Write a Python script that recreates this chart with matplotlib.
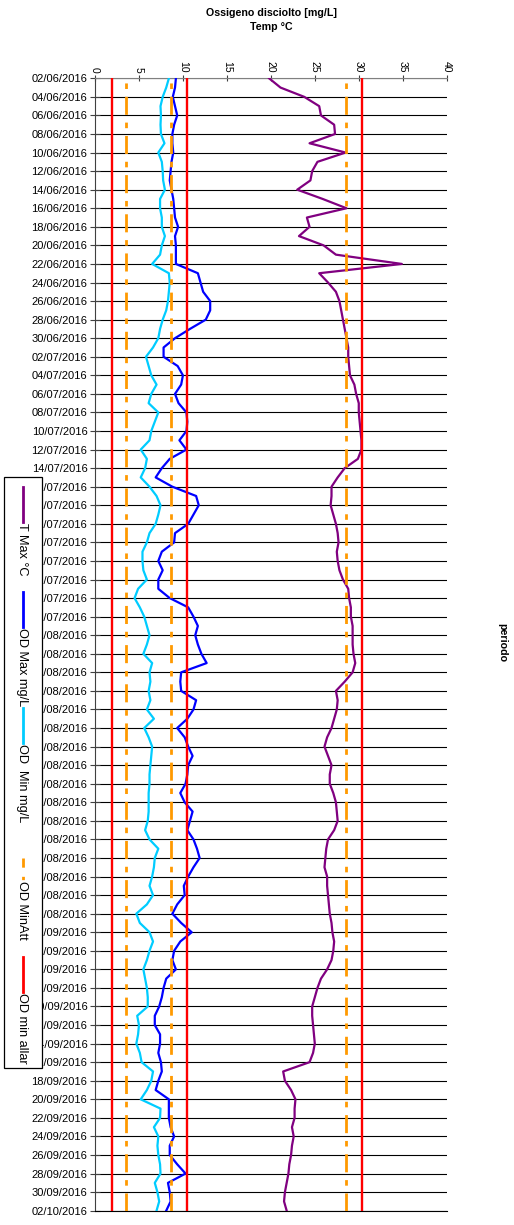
import numpy as np
import pandas as pd
import matplotlib
matplotlib.use('Agg')
import matplotlib.pyplot as plt
from matplotlib.lines import Line2D
from matplotlib.patches import Rectangle

plt.rcParams['font.family'] = ['Liberation Sans', 'DejaVu Sans']

# daily readings 02/06/2016 .. 02/10/2016
days = pd.date_range('2016-06-02', '2016-10-02', freq='D')
tick_dates = days[::2]

t_max = [19.8, 21.1, 23.8, 25.5, 25.7, 27.2, 27.3, 24.4, 28.5, 25.3,
         24.7, 24.5, 23.0, 25.9, 28.6, 24.1, 24.4, 23.2, 26.0, 27.4,
         34.9, 25.5, 26.5, 27.4, 27.8, 28.0, 28.2, 28.4, 28.6, 28.8,
         28.8, 28.9, 29.0, 29.5, 29.7, 30.0, 30.0, 30.1, 30.2, 30.3,
         30.3, 29.9, 28.4, 27.6, 26.9, 26.9, 26.8, 27.1, 27.4, 27.6,
         27.7, 27.5, 27.6, 27.8, 28.2, 28.8, 28.9, 29.1, 29.1, 29.3,
         29.3, 29.3, 29.4, 29.6, 29.3, 28.4, 27.4, 27.6, 27.5, 27.2,
         26.9, 26.4, 26.1, 26.5, 26.9, 26.7, 26.7, 27.1, 27.4, 27.5,
         27.6, 27.2, 26.5, 26.3, 26.2, 26.1, 26.4, 26.4, 26.5, 26.6,
         26.7, 26.9, 27.0, 27.2, 27.1, 26.9, 26.4, 25.7, 25.3, 25.0,
         24.7, 24.7, 24.8, 24.9, 25.0, 24.8, 24.4, 21.4, 21.6, 22.3,
         22.8, 22.7, 22.7, 22.4, 22.6, 22.4, 22.3, 22.1, 22.0, 21.8,
         21.6, 21.5, 21.8]

od_max = [9.2, 9.1, 8.85, 9.1, 9.35, 9.0, 8.8, 8.8, 8.9, 8.7,
          8.6, 8.5, 8.7, 8.9, 9.0, 9.1, 9.45, 9.1, 9.2, 9.2,
          9.2, 11.7, 12.0, 12.3, 13.1, 13.1, 12.6, 10.8, 9.1, 7.8,
          7.8, 9.4, 10.0, 9.8, 9.1, 9.5, 10.4, 10.5, 10.4, 9.6,
          10.4, 8.5, 7.6, 6.9, 8.8, 11.5, 11.8, 11.2, 10.6, 9.1,
          9.0, 7.6, 7.2, 7.7, 7.2, 7.2, 8.5, 10.6, 11.2, 11.7,
          11.4, 11.7, 12.1, 12.7, 9.8, 9.7, 9.8, 11.5, 11.2, 10.5,
          9.35, 10.2, 10.6, 11.1, 10.6, 10.5, 10.3, 9.7, 10.2, 11.1,
          10.8, 10.5, 11.2, 11.6, 11.9, 11.2, 10.6, 10.1, 10.2, 9.35,
          8.8, 9.8, 11.0, 9.7, 9.0, 8.8, 9.2, 8.1, 7.8, 7.6,
          7.3, 6.8, 6.8, 7.4, 7.4, 7.2, 7.5, 7.6, 7.2, 6.9,
          8.4, 8.4, 8.4, 8.6, 9.0, 8.5, 8.5, 9.35, 10.3, 8.3,
          8.5, 8.6, 8.1]

od_min = [8.4, 8.1, 7.7, 7.45, 7.5, 7.45, 7.5, 7.9, 7.2, 7.6,
          7.7, 7.75, 7.95, 7.4, 7.4, 7.6, 7.6, 7.95, 7.6, 7.4,
          6.5, 8.4, 8.5, 8.4, 8.3, 8.1, 7.7, 7.4, 7.2, 6.6,
          5.8, 6.1, 6.4, 7.0, 6.4, 6.1, 7.2, 6.8, 6.4, 6.2,
          5.2, 5.9, 5.7, 5.2, 6.2, 7.0, 7.45, 7.2, 6.9, 6.2,
          5.9, 5.4, 5.4, 5.5, 5.9, 4.9, 4.5, 5.1, 5.6, 5.9,
          6.2, 5.9, 5.5, 6.5, 6.2, 6.3, 6.1, 6.3, 5.9, 6.7,
          5.6, 6.1, 6.5, 6.4, 6.3, 6.2, 6.2, 6.1, 6.1, 6.1,
          6.0, 5.7, 6.2, 7.2, 6.8, 6.7, 6.5, 6.2, 6.6, 5.9,
          4.7, 5.1, 6.2, 6.6, 6.2, 5.9, 5.5, 5.7, 5.9, 6.0,
          6.0, 4.8, 5.0, 4.9, 4.7, 5.1, 5.3, 6.6, 6.4, 5.9,
          5.2, 7.45, 7.4, 6.7, 7.2, 7.1, 7.2, 7.4, 7.45, 6.8,
          7.1, 7.3, 7.0]

od_min_att = [3.55, 8.65, 28.55]
od_min_allar = [1.9, 10.5, 30.35]

labels = ['T Max °C', 'OD Max mg/L', 'OD  Min mg/L', 'OD MinAtt', 'OD min allar']
colors = ['#800080', '#0000ff', '#00ccff', '#ff9900', '#ff0000']
att_dashes = (6.5, 2.8, 2.0, 2.8)

W, H = 514, 1225
fig = plt.figure(figsize=(W / 100, H / 100), dpi=100)

def fx(px):
    return px / W

def fy(py):
    return 1 - py / H

ax = fig.add_axes([fx(95), fy(1210.7), fx(446.7) - fx(95), fy(78.3) - fy(1210.7)])
y = np.arange(len(days))

ax.plot(t_max, y, color=colors[0], lw=1.6, zorder=3)
ax.plot(od_max, y, color=colors[1], lw=1.6, zorder=3)
ax.plot(od_min, y, color=colors[2], lw=1.6, zorder=3)
for v in od_min_att:
    ax.axvline(v, color=colors[3], lw=2, dashes=att_dashes, zorder=4)
for v in od_min_allar:
    ax.axvline(v, color=colors[4], lw=1.7, zorder=5)

ax.set_xlim(0, 40)
ax.set_ylim(len(days) - 1, 0)
ax.set_xticks(range(0, 41, 5))
ax.xaxis.tick_top()
ax.tick_params(axis='x', labelrotation=-90, labelsize=7.5, direction='inout',
               length=5, width=0.8, pad=1.5, colors='#404040', labelcolor='black')
ax.set_yticks(y[::2])
ax.set_yticklabels(tick_dates.strftime('%d/%m/%Y'))
ax.tick_params(axis='y', labelsize=8, direction='inout', length=7, width=0.8,
               pad=2, colors='#404040', labelcolor='black')
ax.yaxis.grid(True, color='black', lw=0.8)
ax.set_axisbelow(True)
ax.spines['right'].set_visible(False)
ax.spines['top'].set_color('#808080')
ax.spines['left'].set_color('#404040')
ax.spines['bottom'].set_color('black')
ax.spines['bottom'].set_linewidth(0.8)

fig.text(fx(271), fy(8), 'Ossigeno disciolto [mg/L]\nTemp °C', ha='center', va='top',
         fontsize=7.7, fontweight='bold', linespacing=1.45)
fig.text(fx(502), fy(643), 'periodo', ha='center', va='center', rotation=-90,
         fontsize=7.7, fontweight='bold')

# rotated legend drawn by hand on the left
fig.add_artist(Rectangle((fx(3.5), fy(1068)), fx(41.5) - fx(3.5), fy(477) - fy(1068),
                         transform=fig.transFigure, facecolor='white',
                         edgecolor='black', lw=0.9, zorder=10))
key_top = [487, 592, 708, 858, 957]
key_len = [35, 35, 35, 22, 35]
for i, lab in enumerate(labels):
    top = key_top[i]
    end = top + key_len[i]
    kw = dict(color=colors[i], lw=2, zorder=11, transform=fig.transFigure)
    if i == 3:
        kw['dashes'] = (3.3, 3.3, 1.2, 10)
    fig.add_artist(Line2D([fx(22.5), fx(22.5)], [fy(top), fy(end)], **kw))
    fig.text(fx(22), fy(end + 1), lab, ha='center', va='top', rotation=-90,
             fontsize=9.2, zorder=12)

fig.savefig('out.png', dpi=100)
